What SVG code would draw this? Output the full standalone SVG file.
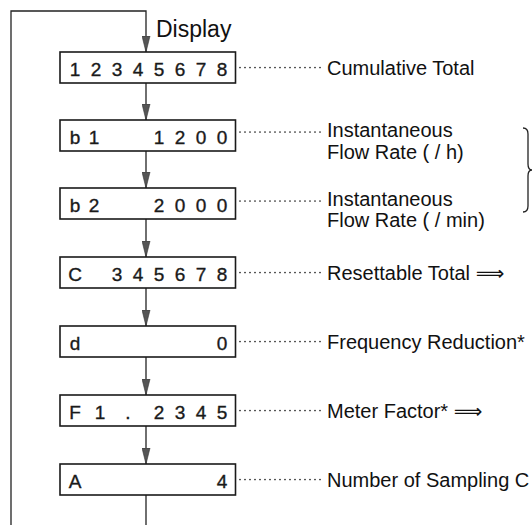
<svg xmlns="http://www.w3.org/2000/svg" width="532" height="525" viewBox="0 0 532 525">
<defs>
<style>
.box{fill:#fff;stroke:#1a1a1a;stroke-width:1.6}
.ln{fill:none;stroke:#222;stroke-width:1.3}
.dot{fill:none;stroke:#222;stroke-width:1.7;stroke-linecap:round;stroke-dasharray:0 5}
.dg{font-family:"Liberation Sans",Arial,sans-serif;font-size:19px;fill:#1a1a1a;stroke:#1a1a1a;stroke-width:0.35;text-anchor:middle}
.lb{font-family:"Liberation Sans",Arial,"DejaVu Sans",sans-serif;font-size:20px;fill:#111}
.ar{font-family:"DejaVu Sans",sans-serif;font-size:20px}
</style>
<marker id="ah" markerUnits="userSpaceOnUse" markerWidth="16" markerHeight="9" refX="16" refY="4.5" orient="auto">
<path d="M0,0.5 L16,4.5 L0,8.5 z" fill="#555" stroke="#333" stroke-width="0.6"/>
</marker>
</defs>
<rect width="532" height="525" fill="#fff"/>
<g id="connectors">
<path class="ln" d="M11,525 V11 H146 V52" marker-end="url(#ah)"/>
<line class="ln" x1="146" y1="83" x2="146" y2="120" marker-end="url(#ah)"/>
<line class="ln" x1="146" y1="151" x2="146" y2="188" marker-end="url(#ah)"/>
<line class="ln" x1="146" y1="219" x2="146" y2="257" marker-end="url(#ah)"/>
<line class="ln" x1="146" y1="288" x2="146" y2="326" marker-end="url(#ah)"/>
<line class="ln" x1="146" y1="357" x2="146" y2="395" marker-end="url(#ah)"/>
<line class="ln" x1="146" y1="426" x2="146" y2="464" marker-end="url(#ah)"/>
<line class="ln" x1="146" y1="495" x2="146" y2="525"/>
<line class="dot" x1="240" y1="67.5" x2="321" y2="67.5"/>
<line class="dot" x1="240" y1="132" x2="321" y2="132"/>
<line class="dot" x1="240" y1="201" x2="321" y2="201"/>
<line class="dot" x1="240" y1="272.5" x2="321" y2="272.5"/>
<line class="dot" x1="240" y1="341.5" x2="321" y2="341.5"/>
<line class="dot" x1="240" y1="410.5" x2="321" y2="410.5"/>
<line class="dot" x1="240" y1="479.5" x2="321" y2="479.5"/>
</g>
<text id="display-label" x="156" y="37" font-family="Liberation Sans, Arial, sans-serif" font-size="23" fill="#111">Display</text>
<g id="n-total">
<rect class="box" x="60" y="52" width="175.5" height="31"/>
<text class="dg" y="76"><tspan x="75">1</tspan><tspan x="96">2</tspan><tspan x="117">3</tspan><tspan x="138">4</tspan><tspan x="159">5</tspan><tspan x="180">6</tspan><tspan x="201">7</tspan><tspan x="222">8</tspan></text>
<text class="lb" x="327" y="75">Cumulative Total</text>
</g>
<g id="n-b1">
<rect class="box" x="60" y="120" width="175.5" height="31"/>
<text class="dg" y="144"><tspan x="75">b</tspan><tspan x="94">1</tspan><tspan x="159">1</tspan><tspan x="180">2</tspan><tspan x="201">0</tspan><tspan x="222">0</tspan></text>
<text class="lb" x="327" y="137">Instantaneous</text>
<text class="lb" x="327" y="158.5">Flow Rate ( / h)</text>
</g>
<g id="n-b2">
<rect class="box" x="60" y="188" width="175.5" height="31"/>
<text class="dg" y="212"><tspan x="75">b</tspan><tspan x="94">2</tspan><tspan x="159">2</tspan><tspan x="180">0</tspan><tspan x="201">0</tspan><tspan x="222">0</tspan></text>
<text class="lb" x="327" y="205.5">Instantaneous</text>
<text class="lb" x="327" y="227">Flow Rate ( / min)</text>
</g>
<path id="brace" class="ln" d="M523,128 Q528,128 528,134 V164 Q528,170 532,170 Q528,170 528,176 V206 Q528,212 523,212"/>
<g id="n-c">
<rect class="box" x="60" y="257" width="175.5" height="31"/>
<text class="dg" y="281"><tspan x="75">C</tspan><tspan x="117">3</tspan><tspan x="138">4</tspan><tspan x="159">5</tspan><tspan x="180">6</tspan><tspan x="201">7</tspan><tspan x="222">8</tspan></text>
<text class="lb" x="327" y="280">Resettable Total <tspan class="ar">⟹</tspan></text>
</g>
<g id="n-d">
<rect class="box" x="60" y="326" width="175.5" height="31"/>
<text class="dg" y="350"><tspan x="75">d</tspan><tspan x="222">0</tspan></text>
<text class="lb" x="327" y="349">Frequency Reduction*</text>
</g>
<g id="n-f">
<rect class="box" x="60" y="395" width="175.5" height="31"/>
<text class="dg" y="419"><tspan x="75">F</tspan><tspan x="100">1</tspan><tspan x="128">.</tspan><tspan x="159">2</tspan><tspan x="180">3</tspan><tspan x="201">4</tspan><tspan x="222">5</tspan></text>
<text class="lb" x="327" y="418">Meter Factor* <tspan class="ar">⟹</tspan></text>
</g>
<g id="n-a">
<rect class="box" x="60" y="464" width="175.5" height="31"/>
<text class="dg" y="488"><tspan x="75">A</tspan><tspan x="222">4</tspan></text>
<text class="lb" x="327" y="487">Number of Sampling C</text>
</g>
</svg>
